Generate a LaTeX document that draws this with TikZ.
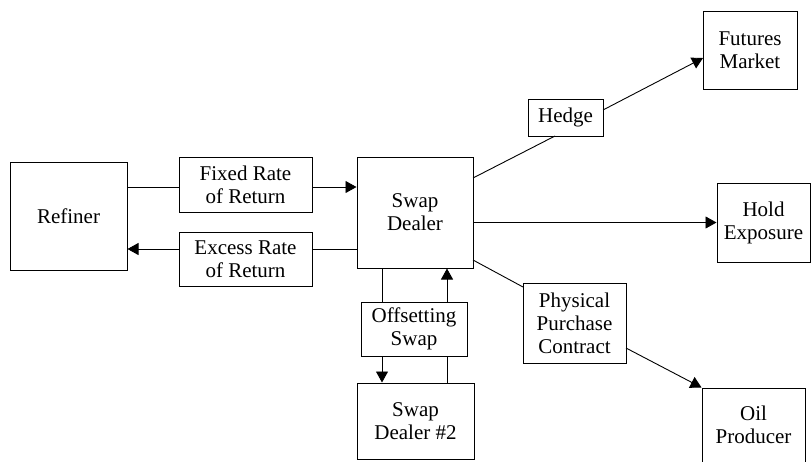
\documentclass[tikz,border=0pt]{standalone}
\usepackage{fontspec}
\setmainfont{Liberation Serif}
\usetikzlibrary{arrows.meta}
\begin{document}
\begin{tikzpicture}[x=1pt,y=-1pt,
  box/.style={draw,line width=1pt,align=center,inner sep=0pt,font=\fontsize{21}{23}\selectfont},
  conn/.style={line width=0.9pt},
  arr/.style={conn,-{Triangle[length=11pt,width=12pt]}}]
\useasboundingbox (0,0) rectangle (811,461);
\node[box,minimum width=117pt,minimum height=108pt] (ref) at (68.5,216) {Refiner};
\node[box,minimum width=133pt,minimum height=55pt] (fixed) at (245.5,184.5) {Fixed Rate\\of Return};
\node[box,minimum width=133pt,minimum height=54pt] (excess) at (245.5,259) {Excess Rate\\of Return};
\node[box,minimum width=116pt,minimum height=111pt] (sd) at (415,212.5) {Swap\\Dealer};
\node[box,minimum width=106pt,minimum height=54pt] (off) at (414,329) {Offsetting\\Swap};
\node[box,minimum width=117pt,minimum height=76pt] (sd2) at (415.5,421) {Swap\\Dealer \#2};
\node[box,minimum width=75pt,minimum height=37pt] (hedge) at (565.5,117.5) {Hedge};
\node[box,minimum width=94pt,minimum height=78pt] (fut) at (750,50) {Futures\\Market};
\node[box,minimum width=93pt,minimum height=79pt] (hold) at (763.5,222.5) {Hold\\Exposure};
\node[box,minimum width=103pt,minimum height=80pt] (ppc) at (574.5,323) {Physical\\Purchase\\Contract};
\node[box,minimum width=103pt,minimum height=74pt] (oil) at (753.5,425) {Oil\\Producer};
% helper coordinates
\coordinate (yA) at (0,187);
\coordinate (yB) at (0,249);
\coordinate (xL) at (382,0);
\coordinate (xR) at (447,0);
\coordinate (sdA) at (473,178);
\coordinate (hA) at (555,136);
\coordinate (hB) at (603,110);
\coordinate (fA) at (703,58);
\coordinate (sdC) at (473,260);
\coordinate (pA) at (523,287);
\coordinate (pB) at (626,348);
% connectors
\draw[conn] (ref.east |- yA) -- (fixed.west |- yA);
\draw[arr] (fixed.east |- yA) -- (sd.west |- yA);
\draw[conn] (sd.west |- yB) -- (excess.east |- yB);
\draw[arr] (excess.west |- yB) -- (ref.east |- yB);
\draw[conn] (sd.south -| xL) -- (off.north -| xL);
\draw[arr] (off.south -| xL) -- (sd2.north -| xL);
\draw[conn] (sd2.north -| xR) -- (off.south -| xR);
\draw[arr] (off.north -| xR) -- (sd.south -| xR);
\draw[conn] (sdA) -- (hA);
\draw[arr] (hB) -- (fA);
\draw[arr] (sd.east |- hold.west) -- (hold.west);
\draw[conn] (sdC) -- (pA);
\draw[arr] (pB) -- (oil.north west);
\end{tikzpicture}
\end{document}
